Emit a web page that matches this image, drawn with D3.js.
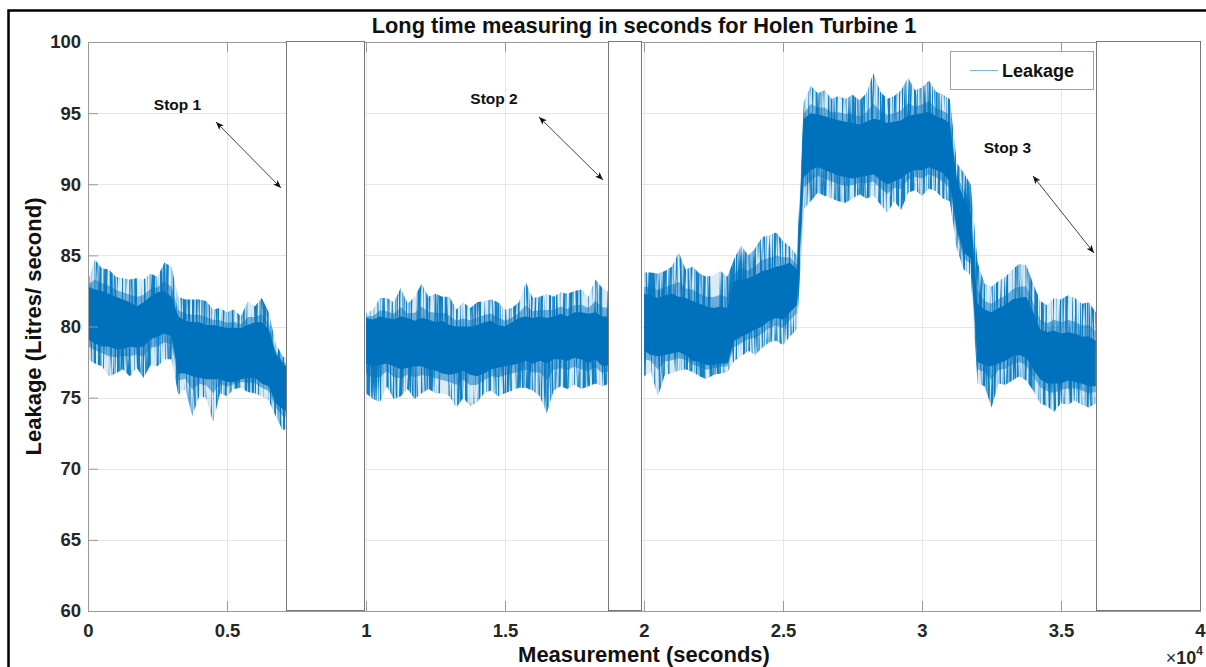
<!DOCTYPE html>
<html><head><meta charset="utf-8">
<script src="https://cdn.jsdelivr.net/npm/d3@7"></script>
<style>
body{margin:0;background:#fff;overflow:hidden}
svg{display:block}
text{font-family:"Liberation Sans",Arial,Helvetica,sans-serif;font-weight:bold}
</style>
</head><body>
<svg id="c" width="1206" height="667"></svg>
<script>
// ---------------- data ----------------
const chartTitle = "Long time measuring in seconds for Holen Turbine 1";
const xLabel = "Measurement (seconds)";
const yLabel = "Leakage (Litres/ second)";
const legendLabel = "Leakage";
const xTickValues = [0, 5000, 10000, 15000, 20000, 25000, 30000, 35000, 40000];
const xTickLabels = ["0", "0.5", "1", "1.5", "2", "2.5", "3", "3.5", "4"];
const yTickValues = [60, 65, 70, 75, 80, 85, 90, 95, 100];
const xExponent = "4";

// the signal is sampled every 250 s; for each sample the extreme spikes
// (max / min) and the dense core of the trace (hi / lo) are read
const sampleStep = 250;

const seg1Start = 0;
const seg1Max = [83.2,84.7,84.1,84.0,83.5,83.4,83.3,83.4,83.3,83.7,83.5,84.5,84.2,82.1,81.9,81.9,81.9,81.8,81.2,81.3,81.0,81.2,80.7,81.8,81.4,82.0,81.0,78.8,77.9,77.6];
const seg1Hi  = [82.8,82.6,82.5,82.3,82.1,81.9,81.7,81.4,81.7,82.1,82.4,82.5,82.1,80.7,80.4,80.3,80.3,80.1,80.1,80.0,79.9,79.9,79.9,80.1,80.3,80.3,79.8,78.1,77.4,77.0];
const seg1Lo  = [79.1,78.8,78.6,78.6,78.4,78.4,78.6,78.5,78.6,79.1,79.3,79.5,79.3,76.7,76.7,76.5,76.4,76.3,76.3,76.3,76.1,76.1,76.3,76.4,76.4,76.0,75.8,74.6,74.2,73.9];
const seg1Min = [77.7,77.4,77.2,76.5,76.7,77.0,76.5,77.1,76.4,77.3,77.2,77.7,77.7,75.2,75.6,73.7,75.1,75.0,73.3,75.3,75.1,75.6,75.7,75.4,75.3,75.1,74.8,73.7,72.7,72.9];

const seg2Start = 10000;
const seg2Max = [80.9,81.2,82.0,82.0,81.7,82.7,81.6,82.1,83.0,82.1,82.3,82.1,82.1,81.2,81.7,81.3,81.7,81.8,81.9,81.7,81.2,81.3,81.7,83.1,82.0,82.1,82.3,82.1,82.4,82.3,82.5,82.6,82.1,83.3,82.7,82.4];
const seg2Hi  = [80.6,80.5,80.7,80.6,80.5,80.7,80.6,80.4,80.6,80.5,80.3,80.4,80.1,80.0,80.0,80.0,80.1,80.3,80.4,80.1,80.0,80.3,80.6,80.7,80.6,80.7,80.6,80.7,80.9,80.7,81.0,81.0,80.9,81.0,80.7,80.7];
const seg2Lo  = [77.4,77.2,77.3,77.4,77.2,77.0,77.1,77.2,77.2,77.0,76.9,76.7,76.6,76.7,76.9,76.6,76.5,76.7,77.0,77.1,77.2,77.3,77.4,77.6,77.4,77.6,77.4,77.7,77.7,77.6,77.8,77.7,77.4,77.7,77.2,77.3];
const seg2Min = [75.3,74.9,74.7,75.8,74.9,75.1,75.6,74.9,75.3,75.6,75.3,75.3,75.1,74.3,75.0,74.4,74.7,75.3,75.5,75.1,75.3,75.5,75.7,75.7,75.5,75.1,73.9,75.5,75.8,75.6,75.9,75.6,75.8,76.0,75.8,76.0];

const seg3Start = 20000;
const seg3Max = [83.8,83.8,83.7,83.9,84.2,85.2,84.0,84.2,83.7,83.5,83.6,83.9,83.5,84.8,85.7,85.0,85.5,86.3,86.4,86.6,86.0,85.6,85.0,95.8,96.9,96.4,96.6,96.0,96.2,96.0,96.3,95.9,96.4,97.8,96.5,96.0,96.2,96.6,97.5,96.6,96.8,97.3,96.5,96.3,96.0,91.5,90.8,90.0,84.5,83.0,82.8,83.2,83.5,84.0,84.4,84.3,83.0,81.8,81.5,82.0,81.9,82.2,82.0,81.6,81.7,81.0];
const seg3Hi  = [82.3,82.2,82.0,82.2,82.3,82.1,82.0,81.8,81.6,81.4,81.3,81.4,81.3,83.2,83.3,83.4,83.6,83.9,84.0,84.2,84.3,84.5,84.0,94.6,95.0,94.9,94.8,94.6,94.5,94.4,94.3,94.2,94.4,94.6,94.5,94.3,94.4,94.5,94.8,94.9,95.0,95.1,94.8,94.6,94.3,90.3,89.0,88.0,81.6,81.2,81.0,81.3,81.5,81.9,82.0,82.1,81.0,79.8,79.6,79.7,79.5,79.6,79.5,79.3,79.3,79.0];
const seg3Lo  = [78.3,78.0,77.9,78.0,78.1,78.2,78.0,77.6,77.5,77.3,77.3,77.4,77.4,79.0,79.3,79.5,79.8,80.0,80.4,80.6,80.5,81.0,81.5,90.5,91.0,91.2,91.0,90.8,90.6,90.5,90.4,90.5,90.6,90.7,90.3,90.0,90.2,90.4,90.8,91.0,91.0,91.2,91.0,90.8,90.2,86.8,85.2,84.8,77.5,77.3,77.2,77.4,77.6,77.9,78.0,77.8,77.0,76.3,76.0,76.0,76.0,76.2,76.1,76.0,75.8,75.8];
const seg3Min = [76.5,76.8,75.1,76.6,76.7,76.9,77.0,76.8,76.5,76.3,76.6,76.7,76.8,77.6,77.9,78.3,78.0,78.5,78.9,79.0,78.7,79.3,79.8,88.3,88.8,89.4,89.2,89.0,88.8,88.7,89.0,89.3,89.0,89.2,88.6,88.0,88.8,88.2,89.4,89.6,89.2,89.7,89.5,89.0,88.8,85.5,84.0,83.6,76.0,75.8,74.3,76.0,75.9,76.2,76.5,76.2,75.5,74.6,74.4,74.0,74.6,74.5,74.8,74.5,74.3,74.6];

// stop periods (white boxes), in seconds
const stopStarts = [7122, 18704, 36258];
const stopEnds   = [9928, 19892, 40000];
const stopNames  = ["Stop 1", "Stop 2", "Stop 3"];
// label anchor (x seconds, y litres/s) and double arrow end points
const stopLabelX = [3219, 14604, 33074];
const stopLabelY = [95.22, 95.64, 92.2];
const arrowX1 = [4604, 16222, 33993];
const arrowY1 = [94.38, 94.73, 90.58];
const arrowX2 = [6942, 18525, 36187];
const arrowY2 = [89.74, 90.30, 85.17];

// ---------------- drawing ----------------
const L = 88, R = 1200, T = 42, B = 611;
const svg = d3.select("#c");
const x = d3.scaleLinear().domain([0, 40000]).range([L, R]);
const y = d3.scaleLinear().domain([60, 100]).range([B, T]);
const blue = "#0072BD";

const defs = svg.append("defs");
defs.append("marker").attr("id", "ah").attr("viewBox", "0 0 10 10")
  .attr("refX", 10).attr("refY", 5).attr("markerWidth", 8).attr("markerHeight", 8)
  .attr("markerUnits", "userSpaceOnUse").attr("orient", "auto-start-reverse")
  .append("path").attr("d", "M0,1 L10,5 L0,9 L2.5,5 Z").attr("fill", "#111");

// streak texture filter: gives the fringe of the trace a dense, needle-like look
const flt = defs.append("filter").attr("id", "streak").attr("filterUnits", "userSpaceOnUse")
  .attr("x", 0).attr("y", 0).attr("width", 1206).attr("height", 667)
  .attr("color-interpolation-filters", "sRGB");
flt.append("feTurbulence").attr("type", "fractalNoise").attr("baseFrequency", "0.55 0.012")
  .attr("numOctaves", 2).attr("seed", 7).attr("result", "n");
flt.append("feColorMatrix").attr("in", "n").attr("type", "matrix")
  .attr("values", "0 0 0 0 0.06  0 0 0 0 0.5  0 0 0 0 0.77  4.6 0 0 0 -1.85").attr("result", "m");
flt.append("feComposite").attr("in", "m").attr("in2", "SourceGraphic").attr("operator", "in");

// outer frame (left and top edges are visible in the picture)
svg.append("path").attr("d", "M8.5,667 V10.5 H1206")
  .attr("fill", "none").attr("stroke", "#000").attr("stroke-width", 2.5);

// grid
const g = svg.append("g");
g.selectAll(".gx").data(xTickValues).join("line")
  .attr("x1", d => Math.round(x(d)) + 0.5).attr("x2", d => Math.round(x(d)) + 0.5)
  .attr("y1", T).attr("y2", B).attr("stroke", "#e6e6e6").attr("stroke-width", 1);
g.selectAll(".gy").data(yTickValues).join("line")
  .attr("y1", d => Math.round(y(d)) + 0.5).attr("y2", d => Math.round(y(d)) + 0.5)
  .attr("x1", L).attr("x2", R).attr("stroke", "#e6e6e6").attr("stroke-width", 1);

// signal: spike envelope (textured), blend band, dense core (solid)
const segments = [
  [seg1Start, seg1Max, seg1Hi, seg1Lo, seg1Min],
  [seg2Start, seg2Max, seg2Hi, seg2Lo, seg2Min],
  [seg3Start, seg3Max, seg3Hi, seg3Lo, seg3Min]
];
const outer = d3.area().x(d => x(d.t)).y0(d => y(d.mn)).y1(d => y(d.mx));
const blend = d3.area().x(d => x(d.t)).y0(d => y((d.mn + 2 * d.lo) / 3)).y1(d => y((d.mx + 2 * d.hi) / 3));
const core = d3.area().x(d => x(d.t)).y0(d => y(d.lo)).y1(d => y(d.hi));
const sig = svg.append("g");
const sigOuter = sig.append("g").attr("filter", "url(#streak)");
const sigBlend = sig.append("g");
const sigCore = sig.append("g");
segments.forEach(([s0, mx, hi, lo, mn]) => {
  const pts = mx.map((v, i) => ({t: s0 + i * sampleStep, mx: v, hi: hi[i], lo: lo[i], mn: mn[i]}));
  sig.insert("path", ":first-child").attr("d", outer(pts)).attr("fill", blue).attr("opacity", 0.14);
  sigOuter.append("path").attr("d", outer(pts)).attr("fill", "#000");
  sigBlend.append("path").attr("d", blend(pts)).attr("fill", blue).attr("opacity", 0.5);
  sigCore.append("path").attr("d", core(pts)).attr("fill", blue);
});

// axes (MATLAB style, ticks inward)
const axisColor = "#9a9a9a";
const ax = svg.append("g").attr("transform", `translate(0,${B})`)
  .call(d3.axisBottom(x).tickValues(xTickValues).tickFormat((d, i) => xTickLabels[i])
    .tickSizeInner(-10).tickSizeOuter(0).tickPadding(13));
const axT = svg.append("g").attr("transform", `translate(0,${T})`)
  .call(d3.axisTop(x).tickValues(xTickValues).tickFormat("").tickSizeInner(-10).tickSizeOuter(0));
const ay = svg.append("g").attr("transform", `translate(${L},0)`)
  .call(d3.axisLeft(y).tickValues(yTickValues).tickFormat(d3.format("d"))
    .tickSizeInner(-10).tickSizeOuter(0).tickPadding(7));
const ayR = svg.append("g").attr("transform", `translate(${R},0)`)
  .call(d3.axisRight(y).tickValues(yTickValues).tickFormat("").tickSizeInner(-10).tickSizeOuter(0));
[ax, axT, ay, ayR].forEach(a => {
  a.select(".domain").remove();
  a.selectAll(".tick line").attr("stroke", axisColor);
  a.selectAll("text").attr("fill", "#262626").style("font-size", "18.5px")
    .style("font-family", '"Liberation Sans",Arial,sans-serif').style("font-weight", "bold");
});
svg.append("rect").attr("x", L + 0.5).attr("y", T + 0.5).attr("width", R - L).attr("height", B - T)
  .attr("fill", "none").attr("stroke", axisColor).attr("stroke-width", 1);

// stop boxes
svg.append("g").selectAll("rect").data(stopStarts).join("rect")
  .attr("x", (d) => Math.round(x(d)) + 0.5)
  .attr("width", (d, i) => Math.round(x(stopEnds[i])) - Math.round(x(d)))
  .attr("y", y(100) - 0.5).attr("height", y(60) - y(100))
  .attr("fill", "#fff").attr("stroke", "#777").attr("stroke-width", 1);

// stop labels and arrows
svg.append("g").selectAll("text").data(stopNames).join("text")
  .attr("x", (d, i) => x(stopLabelX[i])).attr("y", (d, i) => y(stopLabelY[i]))
  .attr("text-anchor", "middle").style("font-size", "15.5px").attr("fill", "#111").text(d => d);
svg.append("g").selectAll("line").data(stopNames).join("line")
  .attr("x1", (d, i) => x(arrowX1[i])).attr("y1", (d, i) => y(arrowY1[i]))
  .attr("x2", (d, i) => x(arrowX2[i])).attr("y2", (d, i) => y(arrowY2[i]))
  .attr("stroke", "#444").attr("stroke-width", 1)
  .attr("marker-start", "url(#ah)").attr("marker-end", "url(#ah)");

// legend
const lg = svg.append("g");
lg.append("rect").attr("x", 950.5).attr("y", 51.5).attr("width", 143).attr("height", 38)
  .attr("fill", "#fff").attr("stroke", "#a0a0a0").attr("stroke-width", 1);
lg.append("line").attr("x1", 970).attr("x2", 998).attr("y1", 70.5).attr("y2", 70.5)
  .attr("stroke", "#7cbbe3").attr("stroke-width", 1);
lg.append("text").attr("x", 1002).attr("y", 77).style("font-size", "18px").attr("fill", "#111").text(legendLabel);

// titles
svg.append("text").attr("x", (L + R) / 2).attr("y", 33).attr("text-anchor", "middle")
  .style("font-size", "21.8px").attr("fill", "#111").text(chartTitle);
svg.append("text").attr("x", (L + R) / 2).attr("y", 662).attr("text-anchor", "middle")
  .style("font-size", "22px").attr("fill", "#111").text(xLabel);
svg.append("text").attr("transform", `translate(41,${(T + B) / 2}) rotate(-90)`)
  .attr("text-anchor", "middle").style("font-size", "22px").attr("fill", "#111").text(yLabel);
const ex = svg.append("text").attr("x", 1203).attr("y", 664).attr("text-anchor", "end")
  .style("font-size", "18px").attr("fill", "#262626");
ex.append("tspan").style("font-weight", "normal").text("\u00d7");
ex.append("tspan").text("10");
ex.append("tspan").attr("dy", -9).style("font-size", "12px").text(xExponent);
</script>
</body></html>
